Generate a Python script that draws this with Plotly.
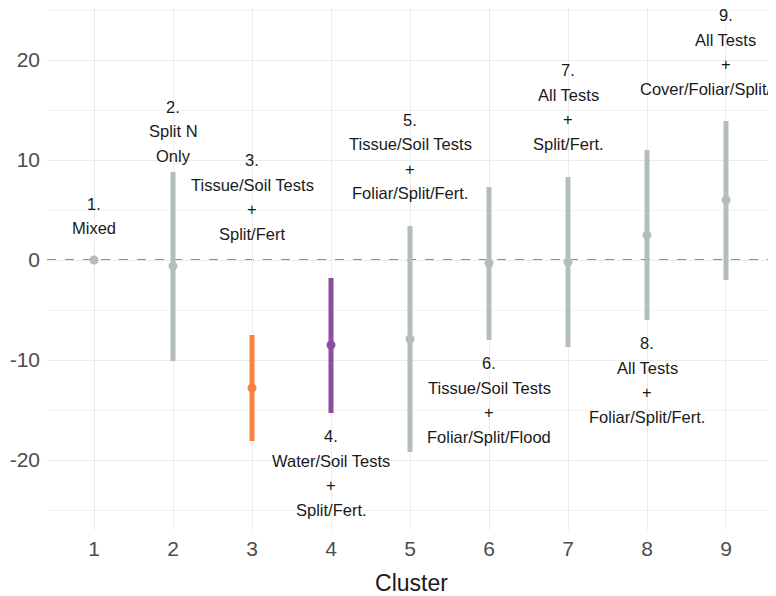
import plotly.graph_objects as go

clusters = [1, 2, 3, 4, 5, 6, 7, 8, 9]
estimate = [0.0, -0.6, -12.8, -8.5, -7.9, -0.3, -0.2, 2.5, 6.0]
upper = [0.0, 8.8, -7.5, -1.8, 3.4, 7.3, 8.3, 11.0, 13.9]
lower = [0.0, -10.1, -18.1, -15.3, -19.2, -8.0, -8.7, -6.0, -2.0]
groups = ["other", "other", "orange", "purple", "other", "other", "other", "other", "other"]
labels = [
    "1.\nMixed",
    "2.\nSplit N\nOnly",
    "3.\nTissue/Soil Tests\n+\nSplit/Fert",
    "4.\nWater/Soil Tests\n+\nSplit/Fert.",
    "5.\nTissue/Soil Tests\n+\nFoliar/Split/Fert.",
    "6.\nTissue/Soil Tests\n+\nFoliar/Split/Flood",
    "7.\nAll Tests\n+\nSplit/Fert.",
    "8.\nAll Tests\n+\nFoliar/Split/Fert.",
    "9.\nAll Tests\n+\nCover/Foliar/Split/Flood",
]
label_y = [4.4, 12.9, 6.3, -21.3, 10.35, -14.0, 15.3, -12.0, 20.8]
y_ticks = [-20, -10, 0, 10, 20]
y_tick_text = ["-20", "-10", "0", "10", "20"]

palette = {"other": "#b3bfb6", "orange": "#fc8142", "purple": "#8b4f9f"}

fig = go.Figure()
for g, col in palette.items():
    idx = [i for i, gg in enumerate(groups) if gg == g]
    fig.add_trace(go.Scatter(
        x=[clusters[i] for i in idx],
        y=[estimate[i] for i in idx],
        mode="markers",
        marker=dict(color=col, size=9),
        error_y=dict(
            type="data", symmetric=False,
            array=[upper[i] - estimate[i] for i in idx],
            arrayminus=[estimate[i] - lower[i] for i in idx],
            color=col, thickness=5, width=0,
        ),
        showlegend=False,
        cliponaxis=False,
    ))

line_gap = 24.5
for x, txt, ly in zip(clusters, labels, label_y):
    lines = txt.split("\n")
    n = len(lines)
    for i, ln in enumerate(lines):
        fig.add_annotation(
            x=x, y=ly, text=ln, showarrow=False,
            yshift=((n - 1) / 2 - i) * line_gap,
            font=dict(family="Liberation Sans, Arial", size=16.5, color="#1a1a1a"),
            xanchor="center", yanchor="middle",
        )

fig.add_shape(type="line", xref="paper", x0=0, x1=1, yref="y", y0=0, y1=0,
              line=dict(color="#6a6a6a", width=1.3, dash="dash"), layer="below")

fig.update_layout(
    width=768, height=588,
    margin=dict(l=39, r=0, t=0, b=66),
    plot_bgcolor="white", paper_bgcolor="white",
    font=dict(family="Liberation Sans, Arial"),
    xaxis=dict(
        range=[0.405, 9.633], tickvals=clusters, ticktext=[str(c) for c in clusters],
        showgrid=True, gridcolor="#ebebeb", gridwidth=1, zeroline=False,
        tickfont=dict(size=21, color="#4d4d4d"), ticks="", ticklabelstandoff=4,
        title=dict(text="Cluster", font=dict(size=23, color="#1a1a1a"), standoff=16),
        automargin=False,
    ),
    yaxis=dict(
        range=[-27, 25.2], tickvals=y_ticks, ticktext=y_tick_text,
        showgrid=True, gridcolor="#ebebeb", gridwidth=1, zeroline=False,
        minor=dict(dtick=5, showgrid=True, gridcolor="#f3f3f3", gridwidth=1),
        tickfont=dict(size=21, color="#4d4d4d"), ticks="", ticklabelstandoff=6,
        automargin=False,
    ),
)

fig.write_html("out.html")
